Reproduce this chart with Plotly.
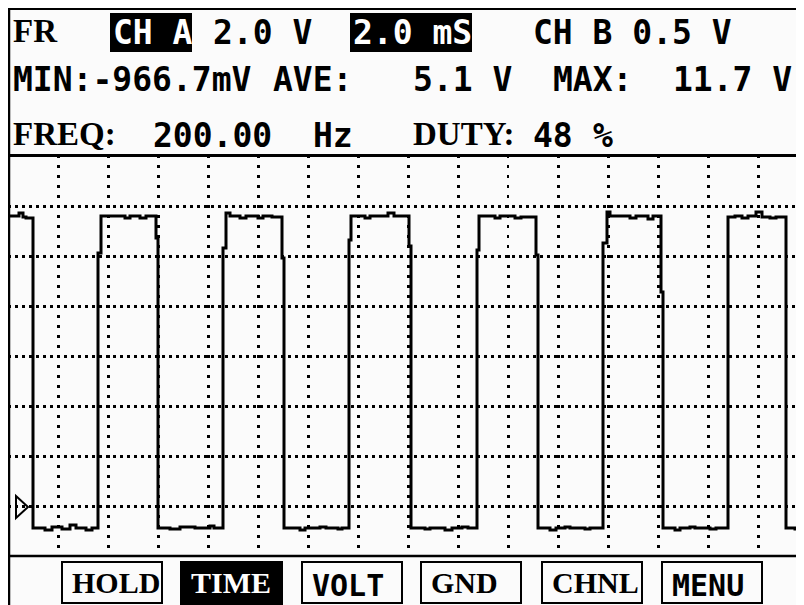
import plotly.graph_objects as go

W, H = 804, 605
PAGE_OFFSET = 8  # the page body margin: the figure starts 8px from the window edge

# ---- Channel A trace (time in ms, level in V) ----
# step trace: each point gives the level that starts at that time
t_ms = [0.0, 0.44, 0.6, 0.72, 1.0,
        1.48, 1.76, 2.16, 2.48, 2.72, 3.12, 3.36,
        3.6, 3.72,
        4.68, 4.88, 5.28, 5.52,
        5.92, 6.0,
        6.48, 6.88, 7.48, 8.08, 8.24,
        8.6, 8.72, 8.88,
        9.28, 9.52, 10.0, 10.2, 10.56,
        10.96, 11.04,
        11.68, 11.88, 12.48, 12.72, 13.2, 13.36,
        13.64, 13.72,
        14.28, 14.48, 15.2, 15.44,
        16.04, 16.12,
        16.68, 16.88, 17.48, 17.76, 18.16, 18.4,
        18.76, 18.84,
        19.48, 19.68, 20.28, 20.52,
        21.12, 21.2,
        21.68, 21.92, 22.28, 22.48, 23.08, 23.28,
        23.8, 23.96, 24.08,
        24.88, 25.12, 25.6, 25.8,
        26.12, 26.2,
        26.68, 26.88, 27.28, 27.48, 28.08, 28.32,
        28.8,
        29.08, 29.36, 29.6, 29.92, 30.16, 30.48, 30.72,
        31.12,
        31.48, 31.68, 31.84]
volts = [11.6, 11.72, 11.56, 11.52, -0.88,
         -0.96, -0.84, -0.92, -0.76, -0.88, -0.96, -0.88,
         10.12, 11.6,
         11.52, 11.6, 11.52, 11.6,
         10.72, -0.88,
         -0.92, -0.84, -0.88, -0.8, -0.88,
         10.32, 11.72, 11.6,
         11.52, 11.6, 11.52, 11.6, 11.56,
         9.92, -0.88,
         -0.96, -0.88, -0.84, -0.88, -0.92, -0.88,
         10.64, 11.6,
         11.52, 11.6, 11.72, 11.6,
         10.4, -0.88,
         -0.92, -0.88, -0.96, -0.88, -0.84, -0.88,
         10.24, 11.6,
         11.52, 11.6, 11.52, 11.56,
         10.04, -0.88,
         -0.96, -0.88, -0.84, -0.88, -0.92, -0.88,
         10.52, 11.76, 11.6,
         11.52, 11.6, 11.48, 11.6,
         8.56, -0.88,
         -0.96, -0.88, -0.84, -0.88, -0.92, -0.88,
         11.56,
         11.6, 11.52, 11.6, 11.76, 11.56, 11.52, 11.56,
         -0.88,
         -0.92, -0.88, -0.88]

# screen scale: 2.0 ms/div, 2.0 V/div
ms_per_div = 2.0
v_per_div = 2.0
t_span = [0.0, 31.84]
v_span = [-1.96, 14.04]

# ---- readout text (column on the character grid, text, style) ----
row1 = [(0, "FR", "serif"), (5, "CH A", "inv"), (10, "2.0 V", "sans"),
        (17, "2.0 mS", "inv"), (26, "CH B 0.5 V", "sans")]
row2 = [(0, "MIN:-966.7mV", "sans"), (13, "AVE:", "sans"), (20, "5.1 V", "sans"),
        (27, "MAX:", "sans"), (33, "11.7 V", "sans")]
row3 = [(0, "FREQ:", "serif"), (7, "200.00", "sans"), (15, "Hz", "sans"),
        (20, "DUTY:", "serif"), (26, "48", "sans"), (29, "%", "sans")]

buttons = ["HOLD", "TIME", "VOLT", "GND", "CHNL", "MENU"]
button_style = ["serif", "inv_serif", "sans", "serif", "serif", "sans"]
button_left = [61, 180, 301, 420, 541, 661]

SANS = "DejaVu Sans Mono"
SERIF = "Liberation Serif"
BG = "#fbfbfb"


def px(x):
    return (x - PAGE_OFFSET) / W


def py(y):
    return 1 - (y - PAGE_OFFSET) / H


CELL0, CELL = 11, 20

fig = go.Figure()
fig.add_trace(go.Scatter(
    x=t_ms, y=volts, mode="lines",
    line=dict(color="black", width=3, shape="hv"),
    hoverinfo="skip", showlegend=False))

shapes = []
annotations = []


def add_text(xpix, ypix, text, style, serif_size=33, sans_size=33):
    if "serif" in style:
        font = dict(family=SERIF, size=serif_size, color="black", weight="bold")
    else:
        font = dict(family=SANS, size=sans_size, color="black", weight="bold")
    if style.startswith("inv"):
        font["color"] = "white"
    annotations.append(dict(x=px(xpix), y=py(ypix), xref="paper", yref="paper",
                            xanchor="left", yanchor="middle", text=text,
                            showarrow=False, font=font))


for rows, yc in ((row1, 32), (row2, 80), (row3, 135)):
    for col, text, style in rows:
        x0 = CELL0 + col * CELL
        if style == "inv":
            shapes.append(dict(type="rect", xref="paper", yref="paper",
                               x0=px(x0 - 1), x1=px(x0 + len(text) * CELL + 1),
                               y0=py(52), y1=py(13), fillcolor="black",
                               line=dict(width=0), layer="below"))
        add_text(x0, yc if "serif" not in style else yc - 1, text, style)

for label, style, left in zip(buttons, button_style, button_left):
    if style.startswith("inv"):
        shapes.append(dict(type="rect", xref="paper", yref="paper",
                           x0=px(left), x1=px(left + 103), y0=py(606), y1=py(561),
                           fillcolor="black", line=dict(width=0), layer="below"))
    else:
        shapes.append(dict(type="rect", xref="paper", yref="paper",
                           x0=px(left + 1), x1=px(left + 101), y0=py(603), y1=py(562),
                           line=dict(color="black", width=2)))
    yb = 582 if "serif" in style else 585
    add_text(left + 9, yb, label, style, serif_size=30, sans_size=30)

# frame lines
shapes += [
    dict(type="line", xref="paper", yref="paper", x0=0, x1=1, y0=py(9), y1=py(9),
         line=dict(color="black", width=2)),
    dict(type="line", xref="paper", yref="paper", x0=px(9), x1=px(9), y0=1, y1=0,
         line=dict(color="black", width=2.5)),
    dict(type="line", xref="paper", yref="paper", x0=0, x1=1, y0=py(155.5), y1=py(155.5),
         line=dict(color="black", width=3)),
    dict(type="line", xref="paper", yref="paper", x0=0, x1=1, y0=py(556), y1=py(556),
         line=dict(color="black", width=2.5)),
    # ground / trigger marker
    dict(type="path", xref="paper", yref="paper",
         path=f"M {px(16)},{py(496)} L {px(28)},{py(507)} L {px(16)},{py(518)} Z",
         line=dict(color="black", width=2), fillcolor="rgba(0,0,0,0)"),
]

fig.update_layout(
    width=W, height=H, autosize=False,
    margin=dict(l=0, r=0, t=0, b=0, pad=0),
    paper_bgcolor=BG, plot_bgcolor=BG,
    shapes=shapes, annotations=annotations,
    xaxis=dict(domain=[px(8), px(804)], range=t_span, tick0=0, dtick=ms_per_div,
               showgrid=True, gridcolor="black", gridwidth=2.5, griddash="3px,7px",
               zeroline=False, showline=False, showticklabels=False, ticks="",
               fixedrange=True),
    yaxis=dict(domain=[py(555), py(155)], range=v_span, tick0=0, dtick=v_per_div,
               showgrid=True, gridcolor="black", gridwidth=2.5, griddash="2.5px,4.5px",
               zeroline=False, showline=False, showticklabels=False, ticks="",
               fixedrange=True),
    showlegend=False,
)

fig.write_html("out.html")
